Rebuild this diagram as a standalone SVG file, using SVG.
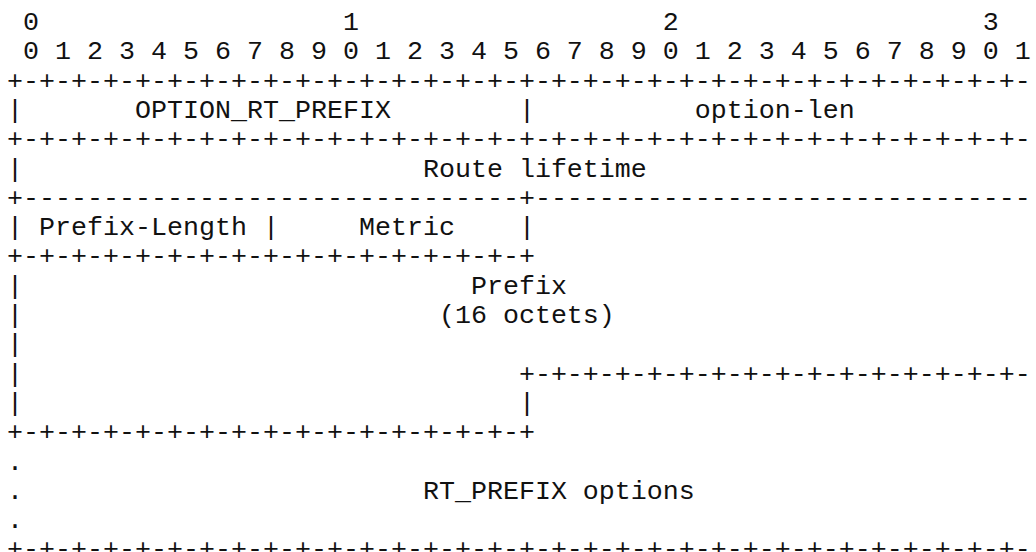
<svg xmlns="http://www.w3.org/2000/svg" width="1036" height="552" viewBox="0 0 1036 552" xml:space="preserve">
<style>
.t{font-family:"Liberation Mono","Courier New",monospace;font-size:26.67px;fill:#111;white-space:pre}
</style>
<rect width="1036" height="552" fill="#fff"/>
<g id="diagram" class="t">
<text xml:space="preserve" x="7" y="30"> 0                   1                   2                   3</text>
<text xml:space="preserve" x="7" y="59.3"> 0 1 2 3 4 5 6 7 8 9 0 1 2 3 4 5 6 7 8 9 0 1 2 3 4 5 6 7 8 9 0 1</text>
<text xml:space="preserve" x="7" y="88.6">+-+-+-+-+-+-+-+-+-+-+-+-+-+-+-+-+-+-+-+-+-+-+-+-+-+-+-+-+-+-+-+-</text>
<text xml:space="preserve" x="7" y="117.9">|       OPTION_RT_PREFIX        |          option-len</text>
<text xml:space="preserve" x="7" y="147.2">+-+-+-+-+-+-+-+-+-+-+-+-+-+-+-+-+-+-+-+-+-+-+-+-+-+-+-+-+-+-+-+-</text>
<text xml:space="preserve" x="7" y="176.5">|                         Route lifetime</text>
<text xml:space="preserve" x="7" y="205.8">+-------------------------------+-------------------------------</text>
<text xml:space="preserve" x="7" y="235.1">| Prefix-Length |     Metric    |</text>
<text xml:space="preserve" x="7" y="264.4">+-+-+-+-+-+-+-+-+-+-+-+-+-+-+-+-+</text>
<text xml:space="preserve" x="7" y="293.7">|                            Prefix</text>
<text xml:space="preserve" x="7" y="323">|                          (16 octets)</text>
<text xml:space="preserve" x="7" y="352.3">|</text>
<text xml:space="preserve" x="7" y="381.6">|                               +-+-+-+-+-+-+-+-+-+-+-+-+-+-+-+-</text>
<text xml:space="preserve" x="7" y="410.9">|                               |</text>
<text xml:space="preserve" x="7" y="440.2">+-+-+-+-+-+-+-+-+-+-+-+-+-+-+-+-+</text>
<text xml:space="preserve" x="7" y="469.5">.</text>
<text xml:space="preserve" x="7" y="498.8">.                         RT_PREFIX options</text>
<text xml:space="preserve" x="7" y="528.1">.</text>
<text xml:space="preserve" x="7" y="557.4">+-+-+-+-+-+-+-+-+-+-+-+-+-+-+-+-+-+-+-+-+-+-+-+-+-+-+-+-+-+-+-+-</text>
</g>
</svg>
